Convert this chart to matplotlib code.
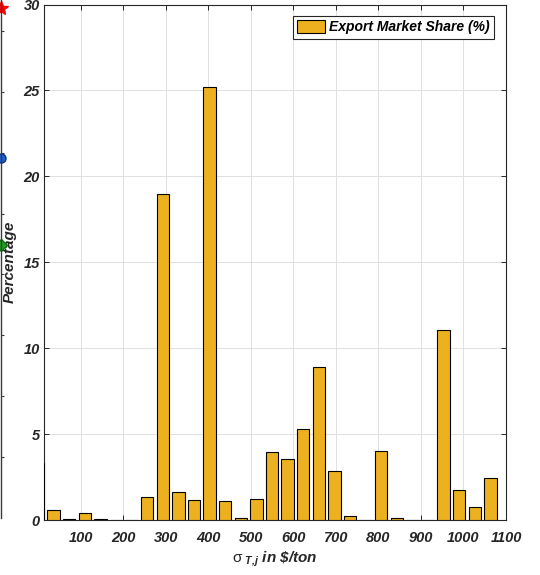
import matplotlib
matplotlib.use("Agg")
import matplotlib.pyplot as plt

plt.rcParams["font.family"] = ["Liberation Sans", "DejaVu Sans"]
plt.rcParams["font.weight"] = "bold"
plt.rcParams["font.style"] = "italic"
plt.rcParams["axes.labelweight"] = "bold"
plt.rcParams["mathtext.fontset"] = "custom"
plt.rcParams["mathtext.it"] = "Liberation Sans:italic:bold"
plt.rcParams["mathtext.rm"] = "Liberation Sans:bold"
plt.rcParams["mathtext.sf"] = "Liberation Sans:style=normal:weight=normal"

# price-gap bins ($/ton) and share of exports falling in each bin (%)
bin_centres = [0.0, 36.7, 73.3, 110.0, 146.7, 183.3, 220.0, 256.7, 293.3, 330.0,
               366.7, 403.3, 440.0, 476.7, 513.3, 550.0, 586.7, 623.3, 660.0, 696.7,
               733.3, 770.0, 806.7, 843.3, 880.0, 916.7, 953.3, 990.0, 1026.7, 1063.3]
export_share = [3.3, 0.6, 0.05, 0.43, 0.05, 0.0, 0.0, 1.35, 18.95, 1.62,
                1.16, 25.2, 1.1, 0.1, 1.25, 3.95, 3.53, 5.32, 8.92, 2.88,
                0.23, 0.0, 4.02, 0.12, 0.0, 0.0, 11.05, 1.75, 0.73, 2.45]
x_ticks = [100, 200, 300, 400, 500, 600, 700, 800, 900, 1000, 1100]
y_ticks = [0, 5, 10, 15, 20, 25, 30]

# neighbouring panel, only its edge shows
side_ticks = [1, 2, 3, 4, 5, 6, 7, 8]
side_marker_y = [8.37, 5.91, 4.48]
side_markers = ["*", "o", "D"]
side_faces = ["#ff0000", "#1f5fd0", "#1f9e1f"]
side_edges = ["#ff0000", "#0b2f8a", "#147014"]

ink = "#262626"
bar_yellow = "#EDB120"

fig = plt.figure(figsize=(5.4, 5.75), dpi=100)
ax = fig.add_axes([44 / 540, 55 / 575, 462 / 540, 515.5 / 575])

ax.bar(bin_centres, export_share, width=0.8 * 36.67, color=bar_yellow,
       edgecolor="black", linewidth=0.8, label="Export Market Share (%)", zorder=3)

ax.set_xlim(14, 1100)
ax.set_ylim(0, 30)
ax.set_xticks(x_ticks)
ax.set_yticks(y_ticks)
ax.grid(color="#e0e0e0", linewidth=0.7)
ax.set_axisbelow(True)
ax.tick_params(direction="in", length=3.6, width=0.7, top=True, right=True,
               colors=ink, labelsize=10.5)
ax.tick_params(axis="x", pad=8)
ax.tick_params(axis="y", pad=3)
for s in ax.spines.values():
    s.set_color(ink)
    s.set_linewidth(0.8)

ax.set_ylabel("Percentage", fontsize=11, fontweight="bold", color=ink)
ax.yaxis.set_label_coords(-0.06, 0.5)
ax.set_xlabel(r"$\mathsf{\sigma}_{\ T{,}j}$ in \$/ton", fontsize=11,
              fontweight="bold", color=ink)
ax.xaxis.set_label_coords(0.5, -0.057)
ax.xaxis.label.set_va("top")

leg = ax.legend(loc="upper right", fancybox=False, edgecolor=ink, framealpha=1,
                fontsize=10, handlelength=2.0, handleheight=1.0,
                handletextpad=0.35, borderpad=0.3, borderaxespad=0.85)
leg.get_frame().set_linewidth(0.8)

side = fig.add_axes([-0.2, 57 / 575, 0.2 + 1 / 540, 523.7 / 575])
side.patch.set_visible(False)
side.set_xlim(0, 1)
side.set_ylim(0, 8.6)
for name in ["left", "top", "bottom"]:
    side.spines[name].set_visible(False)
side.spines["right"].set_color("#3a3a3a")
side.spines["right"].set_linewidth(1.0)
side.set_xticks([])
side.yaxis.tick_right()
side.set_yticks(side_ticks)
side.tick_params(axis="y", direction="out", length=2, width=0.8,
                 colors="#3a3a3a", labelright=False)
for y, m, fc, ec in zip(side_marker_y, side_markers, side_faces, side_edges):
    side.plot([1], [y], marker=m, markersize=10 if m == "*" else 6.5,
              markerfacecolor=fc, markeredgecolor=ec, linestyle="none",
              clip_on=False)

fig.savefig("out.png", dpi=100)
